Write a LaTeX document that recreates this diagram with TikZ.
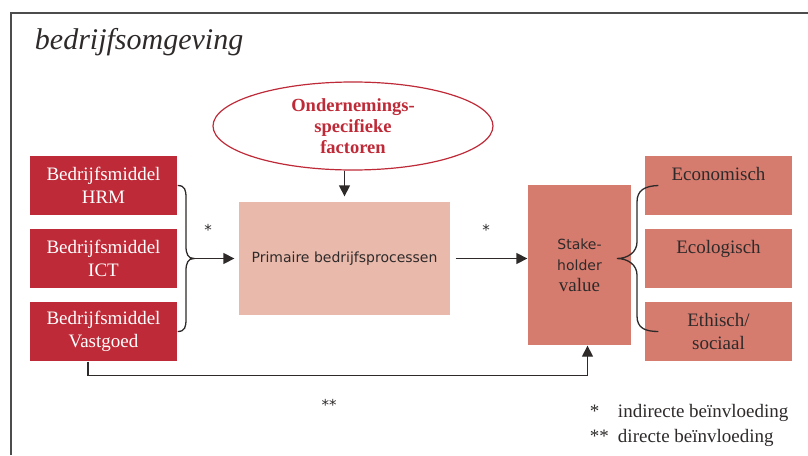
\documentclass[tikz,border=0pt]{standalone}
\usepackage{fontspec}
\setmainfont{Liberation Serif}
\setsansfont{DejaVu Sans}
\usepackage{tikz}
\usetikzlibrary{arrows.meta,shapes.geometric}

\definecolor{bmred}{HTML}{BE2A37}
\definecolor{ppink}{HTML}{E9B9AB}
\definecolor{svsalmon}{HTML}{D67C6F}
\definecolor{dtext}{HTML}{2E2A2A}

\begin{document}
\begin{tikzpicture}[x=1pt, y=-1pt, line width=1.3pt, >={Triangle[length=11pt,width=11pt]},
    middel/.style={fill=bmred, text=white, minimum width=147pt, minimum height=59pt, inner sep=0pt, align=center, font=\fontsize{19}{23}\selectfont},
    waarde/.style={middel, fill=svsalmon, text=dtext},
    pijl/.style={->, draw=dtext},
    ster/.style={text=dtext, font=\sffamily\fontsize{15}{15}\selectfont},
    legenda/.style={anchor=base west, text=dtext, font=\fontsize{19}{23}\selectfont}]

    \useasboundingbox (0,0) rectangle (808,455);
    \draw[line width=1.4pt, black!70] (11,455) -- (11,13) -- (808,13);

    \node[anchor=base west, text=dtext, font=\itshape\fontsize{30}{36}\selectfont] (titel) at (31,49) {bedrijfsomgeving};

    % bedrijfsmiddelen
    \node[middel] (hrm) at (103.5,185.5) {Bedrijfsmiddel\\HRM};
    \node[middel] (ict) at (103.5,258.5) {Bedrijfsmiddel\\ICT};
    \node[middel] (vastgoed) at (103.5,331.5) {Bedrijfsmiddel\\Vastgoed};

    \node[fill=ppink, minimum width=211pt, minimum height=113pt, text=dtext, font=\sffamily\fontsize{14}{17}\selectfont] (primair) at (344.5,258.5) {Primaire bedrijfsprocessen};

    \node[ellipse, draw=bmred, fill=white, line width=1.2pt, minimum width=280pt, minimum height=88pt, inner sep=0pt, align=center, text=bmred, font=\bfseries\fontsize{18.5}{21}\selectfont] (factoren) at (353,126) {Ondernemings-\\specifieke\\factoren};

    \node[fill=svsalmon, minimum width=103pt, minimum height=160pt, align=center, text=dtext, font=\sffamily\fontsize{14}{21}\selectfont] (stake) at (579.5,265) {Stake-\\holder\\{\rmfamily\fontsize{19}{21}\selectfont value}};

    % waarden
    \node[waarde] (econ) at (718.5,185.5) {Economisch\\\mbox{}};
    \node[waarde] (ecol) at (718.5,258.5) {Ecologisch\\\mbox{}};
    \node[waarde] (ethisch) at (718.5,331.5) {Ethisch/\\sociaal};

    % accolades
    \coordinate (lpunt) at (194,258.5);
    \coordinate (rpunt) at (617,258.5);
    \draw[draw=dtext] (hrm.east) .. controls (185,185.5) and (186,190) .. (186,198) -- (186,246)
        .. controls (186,254) and (188,258.5) .. (lpunt)
        .. controls (188,258.5) and (186,263) .. (186,271) -- (186,319)
        .. controls (186,327) and (185,331.5) .. (vastgoed.east);
    \draw[draw=dtext] ([xshift=14pt]econ.west) .. controls (645,186) and (637,190) .. (637,202) -- (637,242)
        .. controls (637,252) and (628,258.5) .. (rpunt)
        .. controls (628,258.5) and (637,265) .. (637,275) -- (637,316)
        .. controls (637,328) and (645,331.5) .. ([xshift=14pt]ethisch.west);

    \draw[pijl, shorten >=4pt] (lpunt) -- (primair.west);
    \draw[pijl, shorten >=5pt] (factoren.south -| primair.north) -- (primair.north);
    \draw[pijl] ([xshift=5pt]primair.east) -- (primair.east -| stake.west);
    \draw[pijl] ([xshift=-15.5pt]vastgoed.south) -- ++(0,14) -| ([xshift=8pt]stake.south);

    \node[ster] (ster1) at (208,230) {*};
    \node[ster] (ster2) at (486,230) {*};
    \node[ster] (ster3) at (329,405) {**};

    % legenda
    \node[legenda] (lster1) at (586,417) {*};
    \node[legenda] (ltekst1) at (614,417) {indirecte beïnvloeding};
    \node[legenda] (lster2) at (586,442) {**};
    \node[legenda] (ltekst2) at (614,442) {directe beïnvloeding};

\end{tikzpicture}
\end{document}
